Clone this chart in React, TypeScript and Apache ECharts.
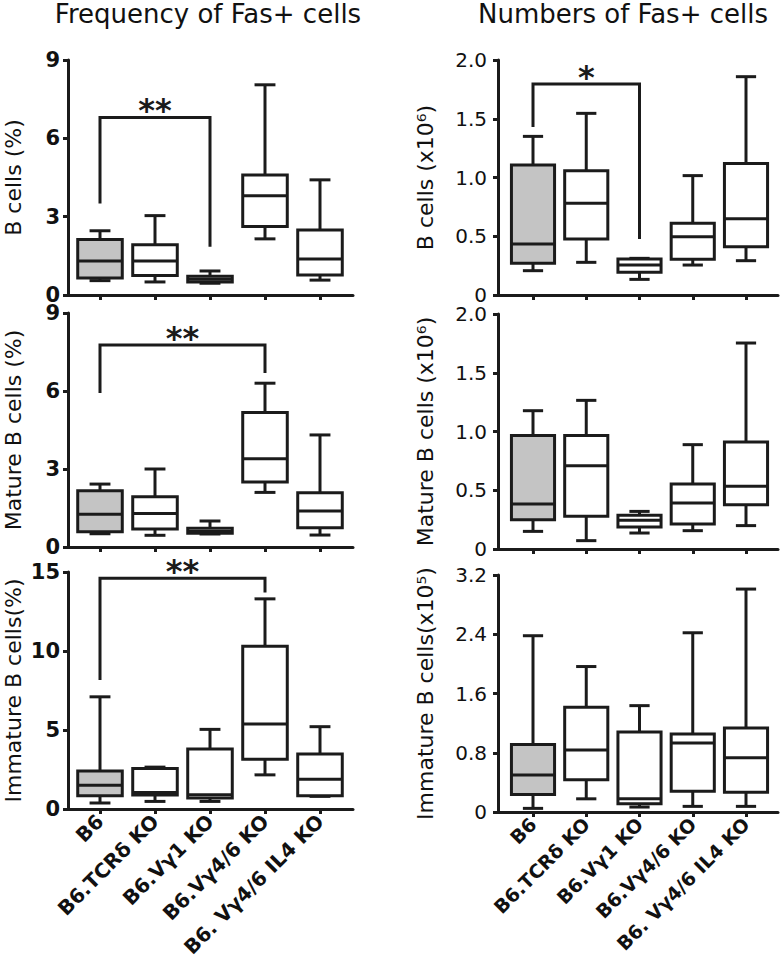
import React, { useEffect, useRef } from "react";
import * as echarts from "echarts";

// ---- data ----
const categories = ["B6", "B6.TCRδ KO", "B6.Vγ1 KO", "B6.Vγ4/6 KO", "B6. Vγ4/6 IL4 KO"];

// each row: [min, q1, median, q3, max]
const freqB = [
  [0.55, 0.65, 1.3, 2.13, 2.46],
  [0.5, 0.75, 1.3, 1.92, 3.04],
  [0.45, 0.5, 0.6, 0.72, 0.92],
  [2.15, 2.62, 3.8, 4.6, 8.05],
  [0.57, 0.77, 1.38, 2.49, 4.41],
];
const freqMature = [
  [0.51, 0.59, 1.26, 2.16, 2.42],
  [0.45, 0.69, 1.29, 1.93, 3.0],
  [0.5, 0.53, 0.6, 0.72, 1.0],
  [2.1, 2.5, 3.39, 5.17, 6.3],
  [0.46, 0.74, 1.38, 2.09, 4.31],
];
const freqImmature = [
  [0.38, 0.84, 1.51, 2.4, 7.1],
  [0.48, 0.88, 1.05, 2.56, 2.65],
  [0.48, 0.69, 0.9, 3.8, 5.04],
  [2.16, 3.15, 5.38, 10.3, 13.3],
  [0.8, 0.84, 1.88, 3.48, 5.21],
];
const numB = [
  [0.207, 0.27, 0.434, 1.106, 1.35],
  [0.278, 0.477, 0.78, 1.058, 1.546],
  [0.133, 0.193, 0.255, 0.306, 0.312],
  [0.255, 0.304, 0.496, 0.61, 1.016],
  [0.292, 0.41, 0.65, 1.12, 1.858],
];
const numMature = [
  [0.15, 0.25, 0.383, 0.967, 1.177],
  [0.071, 0.278, 0.709, 0.967, 1.265],
  [0.136, 0.187, 0.244, 0.287, 0.32],
  [0.156, 0.213, 0.391, 0.553, 0.888],
  [0.199, 0.377, 0.533, 0.91, 1.753],
];
const numImmature = [
  [0.049, 0.236, 0.498, 0.91, 2.38],
  [0.178, 0.436, 0.836, 1.413, 1.964],
  [0.067, 0.111, 0.178, 1.08, 1.436],
  [0.076, 0.28, 0.933, 1.053, 2.42],
  [0.076, 0.267, 0.733, 1.133, 3.01],
];

// brackets: [fromIndex, toIndex, topValue, leftEndValue, rightEndValue]
const bracketFreqB = [0, 2, 6.8, 3.5, 1.85];
const bracketFreqMature = [0, 3, 7.77, 5.92, 6.69];
const bracketFreqImmature = [0, 3, 14.6, 8.16, 13.7];
const bracketNumB = [0, 2, 1.796, 1.43, 0.477];
const bracketLabels = ["**", "**", "**", "*"];

const titles = ["Frequency of Fas+ cells", "Numbers of Fas+ cells"];
const yNames = [
  "B cells (%)",
  "Mature B cells (%)",
  "Immature B cells(%)",
  "B cells (x10⁶)",
  "Mature B cells (x10⁶)",
  "Immature B cells(x10⁵)",
];
const yMax = [9, 9, 15, 2, 2, 3.2];
const yInterval = [3, 3, 5, 0.5, 0.5, 0.8];

const FONT = "'DejaVu Sans', sans-serif";
const INK = "#1b1b1b";
const GREY = "#c4c4c4";

export default function App() {
  const ref = useRef<HTMLDivElement>(null);
  useEffect(() => {
    document.body.style.margin = "0";
    const chart = echarts.init(ref.current!, null, { renderer: "svg" });

    const panels = [freqB, freqMature, freqImmature, numB, numMature, numImmature];
    const brackets: (number[] | null)[] = [bracketFreqB, bracketFreqMature, bracketFreqImmature, bracketNumB, null, null];
    const bracketLabelIdx = [0, 1, 2, 3, -1, -1];

    // layout (pixels)
    const gridTops = [60, 313, 572, 60, 314, 575];
    const gridHeights = [235, 234, 237, 235, 235, 237];

    const grids: any[] = [];
    const xAxes: any[] = [];
    const yAxes: any[] = [];
    const series: any[] = [];

    for (let i = 0; i < 6; i++) {
      const left = i < 3;
      const gLeft = left ? 68 : 498;
      const gWidth = left ? 285 : 280;
      const xMin = left ? -32 / 55 : -35 / 53.25;
      const xMax = left ? 4 + 33 / 55 : 245 / 53.25;
      grids.push({ left: gLeft, top: gridTops[i], width: gWidth, height: gridHeights[i] });
      const bottom = i === 2 || i === 5;
      xAxes.push({
        type: "value",
        gridIndex: i,
        min: xMin,
        max: xMax,
        splitLine: { show: false },
        axisLine: { show: true, onZero: false, lineStyle: { color: INK, width: 3 } },
        axisTick: {
          show: true,
          customValues: [0, 1, 2, 3, 4],
          length: 5,
          lineStyle: { color: INK, width: 3 },
        },
        axisLabel: {
          show: bottom,
          customValues: [0, 1, 2, 3, 4],
          rotate: 45,
          margin: 9,
          fontFamily: FONT,
          fontSize: left ? 20 : 19,
          fontWeight: "bold",
          color: "#111",
          formatter: (v: number) => categories[Math.round(v)] ?? "",
        },
      });
      yAxes.push({
        type: "value",
        gridIndex: i,
        min: 0,
        max: yMax[i],
        interval: yInterval[i],
        name: yNames[i],
        nameLocation: "middle",
        nameGap: left ? 44 : 62,
        nameTextStyle: { fontFamily: FONT, fontSize: 22, color: "#111" },
        splitLine: { show: false },
        axisLine: { show: true, onZero: false, lineStyle: { color: INK, width: 3 } },
        axisTick: { show: true, length: 5, lineStyle: { color: INK, width: 3 } },
        axisLabel: {
          margin: left ? 8 : 11,
          fontFamily: FONT,
          fontSize: left ? 21 : 20,
          lineHeight: 16,
          fontWeight: left ? "bold" : "normal",
          color: "#111",
          formatter: (v: number) => {
            if (v === 0) return "0";
            return left ? String(Math.round(v)) : v.toFixed(1);
          },
        },
      });

      const boxData = panels[i].map((r, k) => [k, ...r]);
      series.push({
        type: "custom",
        xAxisIndex: i,
        yAxisIndex: i,
        data: boxData,
        encode: { x: 0, y: [1, 2, 3, 4, 5] },
        renderItem: (params: any, api: any) => {
          const x = api.value(0);
          const unit = api.size([1, 0])[0];
          const bw = unit * 0.81;
          const cw = unit * 0.38;
          const pMin = api.coord([x, api.value(1)]);
          const pQ1 = api.coord([x, api.value(2)]);
          const pMed = api.coord([x, api.value(3)]);
          const pQ3 = api.coord([x, api.value(4)]);
          const pMax = api.coord([x, api.value(5)]);
          const cx = pMed[0];
          const ls = { stroke: INK, lineWidth: 3, fill: "none" };
          return {
            type: "group",
            children: [
              { type: "line", shape: { x1: cx, y1: pQ3[1], x2: cx, y2: pMax[1] }, style: ls },
              { type: "line", shape: { x1: cx - cw / 2, y1: pMax[1], x2: cx + cw / 2, y2: pMax[1] }, style: ls },
              { type: "line", shape: { x1: cx, y1: pQ1[1], x2: cx, y2: pMin[1] }, style: ls },
              { type: "line", shape: { x1: cx - cw / 2, y1: pMin[1], x2: cx + cw / 2, y2: pMin[1] }, style: ls },
              {
                type: "rect",
                shape: { x: cx - bw / 2, y: pQ3[1], width: bw, height: pQ1[1] - pQ3[1] },
                style: { stroke: INK, lineWidth: 3, fill: x === 0 ? GREY : "#fff" },
              },
              { type: "line", shape: { x1: cx - bw / 2, y1: pMed[1], x2: cx + bw / 2, y2: pMed[1] }, style: ls },
            ],
          };
        },
      });

      const br = brackets[i];
      if (br) {
        const label = bracketLabels[bracketLabelIdx[i]];
        series.push({
          type: "custom",
          xAxisIndex: i,
          yAxisIndex: i,
          data: [br],
          encode: { x: [0, 1], y: [2, 3, 4] },
          renderItem: (params: any, api: any) => {
            const a = api.coord([api.value(0), api.value(2)]);
            const b = api.coord([api.value(1), api.value(2)]);
            const aEnd = api.coord([api.value(0), api.value(3)]);
            const bEnd = api.coord([api.value(1), api.value(4)]);
            return {
              type: "group",
              children: [
                {
                  type: "polyline",
                  shape: { points: [[aEnd[0], aEnd[1]], [a[0], a[1]], [b[0], b[1]], [bEnd[0], bEnd[1]]] },
                  style: { stroke: INK, lineWidth: 3, fill: "none" },
                },
                {
                  type: "text",
                  x: (a[0] + b[0]) / 2,
                  y: a[1] - 7,
                  style: {
                    text: label,
                    fontFamily: FONT,
                    fontSize: 32,
                    fontWeight: "bold",
                    fill: INK,
                    align: "center",
                    verticalAlign: "middle",
                  },
                },
              ],
            };
          },
        });
      }
    }

    chart.setOption({
      animation: false,
      backgroundColor: "#fff",
      title: [
        {
          text: titles[0],
          left: 203,
          top: -4,
          textAlign: "center",
          textStyle: { fontFamily: FONT, fontSize: 26, fontWeight: "normal", color: "#111" },
        },
        {
          text: titles[1],
          left: 618,
          top: -4,
          textAlign: "center",
          textStyle: { fontFamily: FONT, fontSize: 26, fontWeight: "normal", color: "#111" },
        },
      ],
      grid: grids,
      xAxis: xAxes,
      yAxis: yAxes,
      series,
    });
    return () => chart.dispose();
  }, []);
  return <div ref={ref} style={{ width: 780, height: 963 }} />;
}
